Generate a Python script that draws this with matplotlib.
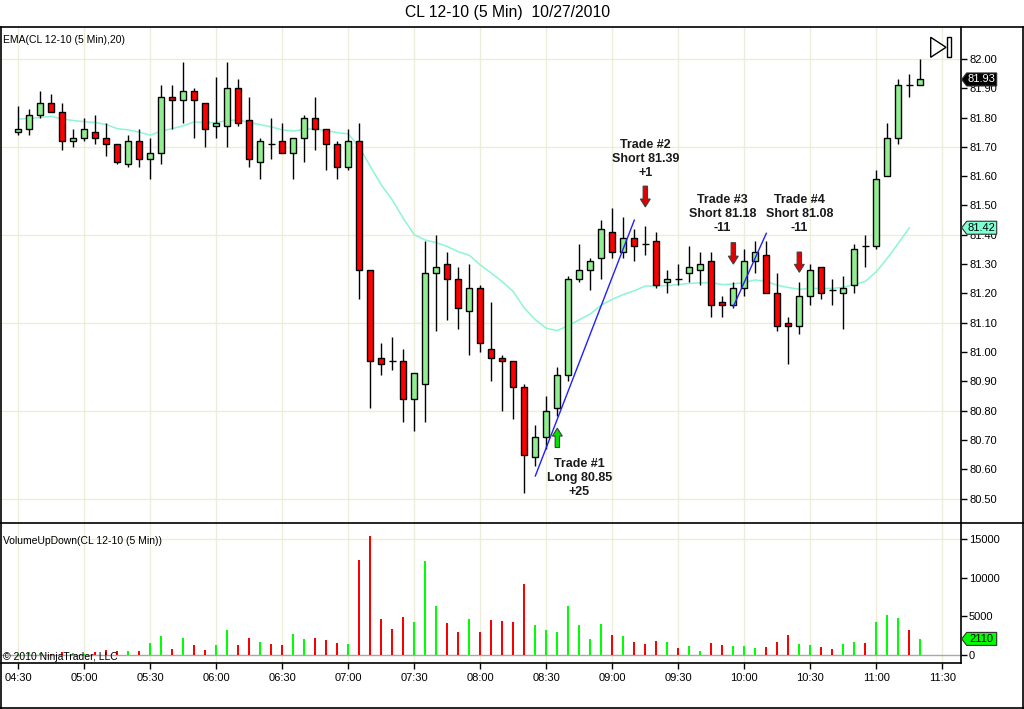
import matplotlib
matplotlib.use('Agg')
import matplotlib.pyplot as plt
from matplotlib.patches import Rectangle, Polygon, FancyArrow
from matplotlib.lines import Line2D
from matplotlib.transforms import IdentityTransform

plt.rcParams['font.family'] = ['Liberation Sans', 'DejaVu Sans']

# 5 min bars CL 12-10, from 04:30
opens = [81.75, 81.76, 81.81, 81.85, 81.82, 81.72, 81.73, 81.75, 81.73, 81.71,
         81.64, 81.72, 81.66, 81.68, 81.87, 81.86, 81.89, 81.85, 81.77, 81.77,
         81.90, 81.79, 81.65, 81.71, 81.72, 81.68, 81.73, 81.80, 81.76, 81.71,
         81.63, 81.72, 81.28, 80.98, 80.97, 80.97, 80.84, 80.89, 81.27, 81.30,
         81.25, 81.14, 81.22, 81.01, 80.98, 80.97, 80.88, 80.64, 80.71, 80.81,
         80.92, 81.25, 81.28, 81.32, 81.41, 81.34, 81.39, 81.37, 81.38, 81.24,
         81.25, 81.27, 81.28, 81.31, 81.17, 81.16, 81.22, 81.31, 81.33, 81.20,
         81.10, 81.09, 81.19, 81.29, 81.21, 81.20, 81.23, 81.36, 81.36, 81.60,
         81.73, 81.91, 81.91]
highs = [81.84, 81.83, 81.89, 81.88, 81.85, 81.76, 81.80, 81.81, 81.78, 81.71,
         81.74, 81.76, 81.73, 81.91, 81.91, 81.99, 81.90, 81.85, 81.94, 81.99,
         81.93, 81.87, 81.73, 81.80, 81.78, 81.73, 81.81, 81.87, 81.76, 81.72,
         81.76, 81.78, 81.28, 81.03, 81.05, 81.01, 80.93, 81.38, 81.40, 81.34,
         81.29, 81.30, 81.23, 81.17, 80.99, 80.97, 80.89, 80.75, 80.85, 80.95,
         81.26, 81.37, 81.32, 81.45, 81.49, 81.46, 81.42, 81.43, 81.41, 81.28,
         81.30, 81.36, 81.34, 81.34, 81.19, 81.24, 81.35, 81.38, 81.38, 81.27,
         81.12, 81.24, 81.30, 81.29, 81.25, 81.26, 81.37, 81.40, 81.62, 81.78,
         81.93, 81.95, 82.00]
lows = [81.74, 81.74, 81.80, 81.82, 81.69, 81.70, 81.72, 81.71, 81.67, 81.64,
        81.63, 81.63, 81.59, 81.64, 81.76, 81.78, 81.73, 81.70, 81.73, 81.70,
        81.77, 81.63, 81.59, 81.66, 81.68, 81.59, 81.65, 81.69, 81.62, 81.59,
        81.62, 81.18, 80.81, 80.92, 80.94, 80.76, 80.73, 80.76, 81.07, 81.11,
        81.08, 80.99, 81.00, 80.90, 80.80, 80.77, 80.52, 80.61, 80.67, 80.78,
        80.90, 81.24, 81.21, 81.25, 81.32, 81.32, 81.31, 81.33, 81.22, 81.20,
        81.23, 81.24, 81.23, 81.12, 81.12, 81.15, 81.19, 81.27, 81.20, 81.07,
        80.96, 81.06, 81.16, 81.18, 81.16, 81.08, 81.20, 81.29, 81.35, 81.60,
        81.71, 81.87, 81.91]
closes = [81.76, 81.81, 81.85, 81.82, 81.72, 81.73, 81.76, 81.73, 81.71, 81.65,
          81.72, 81.66, 81.68, 81.87, 81.86, 81.89, 81.86, 81.76, 81.78, 81.90,
          81.78, 81.66, 81.72, 81.71, 81.68, 81.73, 81.80, 81.76, 81.71, 81.63,
          81.72, 81.28, 80.97, 80.96, 80.97, 80.84, 80.93, 81.27, 81.29, 81.25,
          81.15, 81.22, 81.03, 80.98, 80.97, 80.88, 80.65, 80.71, 80.80, 80.92,
          81.25, 81.28, 81.31, 81.42, 81.34, 81.39, 81.36, 81.37, 81.23, 81.25,
          81.25, 81.29, 81.30, 81.16, 81.16, 81.22, 81.31, 81.34, 81.20, 81.09,
          81.09, 81.19, 81.28, 81.20, 81.21, 81.22, 81.35, 81.36, 81.59, 81.73,
          81.91, 81.91, 81.93]
volumes = [200, 430, 260, 170, 430, 260, 150, 430, 690, 560,
           560, 560, 1590, 2490, 820, 2230, 1330, 690, 1330, 3260,
           1330, 2230, 1720, 1460, 1330, 2750, 2100, 2230, 1970, 1590,
           1460, 12270, 15360, 4680, 3390, 4930, 4290, 12140, 6310, 4120,
           3000, 4680, 3000, 4550, 4420, 4290, 9180, 3860, 3260, 3000,
           6350, 3860, 2100, 4030, 2620, 2490, 1720, 1460, 1840, 1720,
           940, 1200, 560, 1590, 1330, 1200, 1200, 940, 1070, 1720,
           2620, 1460, 1330, 1070, 820, 1460, 1720, 1590, 4290, 5190,
           4800, 3260, 2110]
ema20 = [81.795, 81.797, 81.800, 81.804, 81.795, 81.790, 81.786, 81.783, 81.776, 81.762,
         81.758, 81.750, 81.740, 81.754, 81.762, 81.772, 81.785, 81.783, 81.783, 81.790,
         81.792, 81.783, 81.776, 81.768, 81.758, 81.754, 81.760, 81.761, 81.755, 81.749,
         81.744, 81.700, 81.633, 81.570, 81.519, 81.456, 81.400, 81.382, 81.373, 81.360,
         81.342, 81.330, 81.297, 81.269, 81.240, 81.206, 81.150, 81.110, 81.081, 81.073,
         81.090, 81.110, 81.130, 81.160, 81.180, 81.196, 81.209, 81.225, 81.225, 81.227,
         81.230, 81.234, 81.236, 81.237, 81.230, 81.232, 81.238, 81.246, 81.240, 81.228,
         81.220, 81.214, 81.217, 81.217, 81.217, 81.221, 81.230, 81.241, 81.274, 81.320,
         81.371, 81.424]

time_labels = ['04:30', '05:00', '05:30', '06:00', '06:30', '07:00', '07:30', '08:00',
               '08:30', '09:00', '09:30', '10:00', '10:30', '11:00', '11:30']
price_ticks = [80.50, 80.60, 80.70, 80.80, 80.90, 81.00, 81.10, 81.20, 81.30,
               81.40, 81.50, 81.60, 81.70, 81.80, 81.90, 82.00]
price_grid = [80.50, 80.80, 81.10, 81.40, 81.70, 82.00]
vol_ticks = [0, 5000, 10000, 15000]

# trades: bar index of entry arrow, arrow tip, arrow tail, label bar, label price
trade_names = ['Trade #1', 'Trade #2', 'Trade #3', 'Trade #4']
trade_sides = ['Long', 'Short', 'Short', 'Short']
trade_prices = [80.85, 81.39, 81.18, 81.08]
trade_pnl = ['+25', '+1', '-11', '-11']
arrow_bar = [49, 57, 65, 71]
arrow_tip = [80.74, 81.495, 81.30, 81.272]
arrow_tail = [80.674, 81.566, 81.373, 81.341]
label_bar = [51, 57, 64, 71]
label_price = [80.57, 81.659, 81.471, 81.471]
trend_lines = [((47, 80.577), (56, 81.45)), ((65, 81.155), (68, 81.405))]

W, H = 1024, 709
fig = plt.figure(figsize=(W / 100, H / 100), dpi=100)
ax = fig.add_axes([1 / W, (H - 523.3) / H, 959.7 / W, (523.3 - 27.3) / H])
axv = fig.add_axes([1 / W, (H - 663) / H, 959.7 / W, (663 - 523.3) / H])

n = len(closes)
xs = list(range(n))
start_min = 4 * 60 + 30
tick_pos = [(int(t[:2]) * 60 + int(t[3:]) - start_min) / 5 for t in time_labels]

grid_col = '#EEECDA'
for a in (ax, axv):
    a.set_xlim(-1.573, 85.67)
    for tp in tick_pos:
        a.axvline(tp, color=grid_col, lw=1, zorder=0)
    for s in ('left', 'top', 'bottom'):
        a.spines[s].set_visible(False)
    a.spines['right'].set_linewidth(1.2)
    a.yaxis.tick_right()
    a.tick_params(axis='y', direction='out', length=4, width=1, pad=2, labelsize=8)

for g in price_grid:
    ax.axhline(g, color=grid_col, lw=1, zorder=0)
ax.set_ylim(80.4154, 82.108)
ax.set_yticks(price_ticks)
ax.set_yticklabels(['%.2f' % p for p in price_ticks])
ax.set_xticks([])

# EMA
ax.plot(xs[:len(ema20)], ema20, color='#8CF5D5', lw=1.1, zorder=1)

# candles
bw = 0.52
for i in xs:
    o, h, l, c = opens[i], highs[i], lows[i], closes[i]
    ax.vlines(i, l, h, color='black', lw=1, zorder=2)
    if abs(c - o) < 1e-9:
        ax.hlines(o, i - bw / 2 - 0.05, i + bw / 2 + 0.05, color='black', lw=1, zorder=3)
    else:
        col = '#90EE90' if c > o else '#FF0000'
        ax.add_patch(Rectangle((i - bw / 2, min(o, c)), bw, abs(c - o),
                               facecolor=col, edgecolor='black', lw=1, zorder=3))

# trade lines, arrows, labels
for (p0, p1) in trend_lines:
    ax.plot([p0[0], p1[0]], [p0[1], p1[1]], color='#2020FF', lw=1, zorder=4)
for k in range(len(arrow_bar)):
    col = '#00E000' if trade_sides[k] == 'Long' else '#E00000'
    ax.add_patch(FancyArrow(arrow_bar[k], arrow_tail[k], 0, arrow_tip[k] - arrow_tail[k],
                            width=0.4, head_width=0.9, head_length=0.027,
                            length_includes_head=True, facecolor=col,
                            edgecolor='#404040', lw=0.8, zorder=5))
    ax.text(label_bar[k], label_price[k],
            '%s\n%s %.2f\n%s' % (trade_names[k], trade_sides[k], trade_prices[k], trade_pnl[k]),
            ha='center', va='center', fontsize=9, fontweight='bold', color='#1A1A1A',
            linespacing=1.2, zorder=6)

# volume
vcols = ['#00FF00' if closes[i] > opens[i] else '#FF0000' for i in xs]
axv.bar(xs, volumes, width=0.2, color=vcols, zorder=2)
axv.axhline(15000, color=grid_col, lw=1, zorder=0)
axv.axhline(0, color='#A8A8A8', lw=1, zorder=1)
axv.set_ylim(-991, 16988)
axv.set_yticks(vol_ticks)
axv.set_yticklabels([str(v) for v in vol_ticks])
axv.spines['bottom'].set_visible(True)
axv.spines['bottom'].set_linewidth(1.2)
axv.set_xticks(tick_pos)
axv.set_xticklabels(time_labels)
axv.tick_params(axis='x', direction='out', length=4, width=1, pad=3, labelsize=8)

# frame
def fline(x0, y0, x1, y1, lw=1.2):
    fig.add_artist(Line2D([x0, x1], [H - y0, H - y1], color='black', lw=lw,
                          transform=IdentityTransform()))

fline(0, 27.3, 1024, 27.3)
fline(0.6, 27.3, 0.6, 709)
fline(1023.4, 27.3, 1023.4, 709)
fline(0, 708.4, 1024, 708.4)
fline(0, 523.3, 1024, 523.3)

# labels
fig.text(508 / W, 1 - 13 / H, 'CL 12-10 (5 Min)  10/27/2010', ha='center', va='center', fontsize=11.3)
fig.text(3 / W, 1 - 40 / H, 'EMA(CL 12-10 (5 Min),20)', ha='left', va='center', fontsize=7.5)
fig.text(3 / W, 1 - 541.5 / H, 'VolumeUpDown(CL 12-10 (5 Min))', ha='left', va='center', fontsize=7.5)
fig.text(3 / W, 1 - 657 / H, '\u00a9 2010 NinjaTrader, LLC', ha='left', va='center', fontsize=7.5)

# value tags on the right axis
def tag(a, value, text, face, tcol):
    xd, yd = a.transData.transform((a.get_xlim()[1], value))
    h = 6.5
    pts = [(xd + 1, yd), (xd + 6, yd + h), (xd + 36, yd + h), (xd + 36, yd - h), (xd + 6, yd - h)]
    fig.add_artist(Polygon(pts, closed=True, facecolor=face, edgecolor='#303030', lw=0.8,
                           transform=IdentityTransform(), zorder=10))
    fig.add_artist(plt.Text(xd + 21, yd, text, ha='center', va='center', fontsize=8,
                            color=tcol, transform=IdentityTransform(), zorder=11))

tag(ax, closes[-1], '%.2f' % closes[-1], 'black', 'white')
tag(ax, ema20[-1], '%.2f' % ema20[-1], '#7FFFD4', 'black')
tag(axv, volumes[-1], str(volumes[-1]), '#00FF00', 'black')

# scroll-to-end icon
fig.add_artist(Polygon([(930.7, H - 37.3), (930.7, H - 57.3), (946, H - 47.3)], closed=True,
                       facecolor='white', edgecolor='black', lw=1, transform=IdentityTransform()))
fig.add_artist(Rectangle((947.3, H - 57.3), 3.4, 20, facecolor='white', edgecolor='black', lw=1,
                         transform=IdentityTransform()))

fig.savefig('out.png', dpi=100, facecolor='white')
